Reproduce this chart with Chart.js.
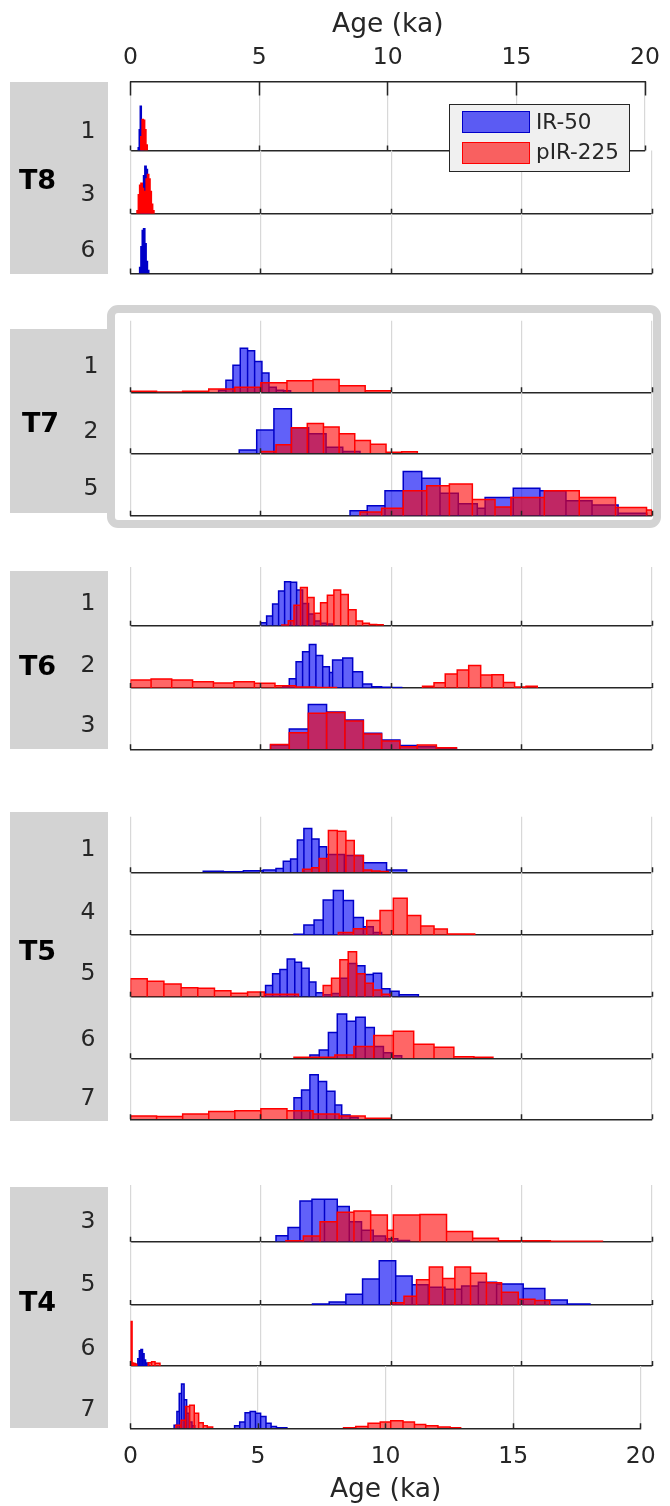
<!DOCTYPE html>
<html><head><meta charset="utf-8">
<script src="https://cdn.jsdelivr.net/npm/chart.js@4.4.1/dist/chart.umd.min.js"></script>
<style>
html,body{margin:0;padding:0;background:#fff;}
#page{position:relative;width:670px;height:1506px;overflow:hidden;font-family:"DejaVu Sans",sans-serif;color:#262626;}
.box{position:absolute;background:#d3d3d3;}
.lbl{position:absolute;height:40px;line-height:40px;text-align:center;font-size:23.5px;width:40px;color:#262626;z-index:5;}
.grp{position:absolute;height:40px;line-height:40px;text-align:center;font-size:27px;font-weight:bold;width:70px;color:#000;z-index:5;}
canvas{position:absolute;left:0;}
.leg{position:absolute;z-index:11;}
</style></head><body><div id="page"></div>
<script>
// ---------- labels ----------
const xTicks = [0, 5, 10, 15, 20];
const xTitle = 'Age (ka)';
const seriesNames = ['IR-50', 'pIR-225'];
const groupNames = ['T8', 'T7', 'T6', 'T5', 'T4'];
const rowNames = [['1','3','6'], ['1','2','5'], ['1','2','3'], ['1','4','5','6','7'], ['3','5','6','7']];

// ---------- histogram data (bin edges in ka, relative bar heights) ----------
const T8_1_IR50_edges = [0.30,0.34,0.38,0.42,0.46,0.50];
const T8_1_IR50_counts = [0.04,0.30,0.64,0.20,0.05];
const T8_1_pIR225_edges = [0.40,0.45,0.50,0.55,0.60,0.65];
const T8_1_pIR225_counts = [0.20,0.45,0.44,0.30,0.08];

const T8_3_IR50_edges = [0.40,0.45,0.50,0.55,0.60,0.65,0.70,0.75];
const T8_3_IR50_counts = [0.08,0.30,0.60,0.75,0.70,0.40,0.12];
const T8_3_pIR225_edges = [0.25,0.30,0.35,0.40,0.45,0.50,0.55,0.60,0.65,0.70,0.75,0.80,0.85,0.90];
const T8_3_pIR225_counts = [0.05,0.30,0.45,0.48,0.40,0.30,0.35,0.55,0.62,0.55,0.35,0.15,0.05];

const T8_6_IR50_edges = [0.35,0.40,0.45,0.50,0.55,0.60,0.65,0.70];
const T8_6_IR50_counts = [0.10,0.45,0.72,0.75,0.50,0.20,0.05];
const T8_6_pIR225_edges = [];
const T8_6_pIR225_counts = [];

const T7_1_IR50_edges = [3.38,3.66,3.93,4.21,4.49,4.76,5.04,5.31,5.59,5.87,6.14];
const T7_1_IR50_counts = [0.03,0.17,0.38,0.615,0.58,0.43,0.27,0.07,0.03,0.02];
const T7_1_pIR225_edges = [0,1,2,3,4,5,6,7,8,9,10];
const T7_1_pIR225_counts = [0.014,0.005,0.014,0.047,0.07,0.135,0.16,0.18,0.09,0.023];

const T7_2_IR50_edges = [4.17,4.84,5.5,6.17,6.83,7.5,8.14,8.8];
const T7_2_IR50_counts = [0.055,0.38,0.73,0.42,0.32,0.10,0.03];
const T7_2_pIR225_edges = [4.99,5.58,6.17,6.78,7.4,8.0,8.6,9.2,9.8,10.4,11.0];
const T7_2_pIR225_counts = [0.03,0.14,0.42,0.49,0.43,0.32,0.21,0.15,0.016,0.027];

const T7_5_IR50_edges = [8.42,9.08,9.76,10.46,11.17,11.87,12.57,13.3,13.6,14.68,15.7,16.7,17.7,18.7,19.8];
const T7_5_IR50_counts = [0.08,0.16,0.40,0.71,0.60,0.36,0.19,0.12,0.29,0.44,0.40,0.24,0.17,0.04];
const T7_5_pIR225_edges = [8.8,9.63,10.46,11.36,12.23,13.11,13.98,14.59,15.87,17.21,18.6,19.79,20];
const T7_5_pIR225_counts = [0.06,0.12,0.40,0.48,0.51,0.26,0.14,0.29,0.40,0.29,0.13,0.09];

const T6_1_IR50_edges = [4.99,5.22,5.45,5.68,5.91,6.14,6.37,6.6,6.83,7.06,7.29,7.52,7.75];
const T6_1_IR50_counts = [0.05,0.165,0.37,0.59,0.75,0.74,0.61,0.38,0.20,0.08,0.04,0.03];
const T6_1_pIR225_edges = [5.8,6.05,6.27,6.52,6.78,7.04,7.29,7.55,7.8,8.06,8.35,8.65,8.9,9.16,9.44,9.69];
const T6_1_pIR225_counts = [0.01,0.085,0.35,0.65,0.48,0.21,0.39,0.52,0.61,0.53,0.27,0.08,0.04,0.02,0.015];

const T6_2_IR50_edges = [5.84,6.09,6.35,6.6,6.86,7.11,7.37,7.63,7.75,8.14,8.52,8.9,9.25,9.63,10.01,10.4];
const T6_2_IR50_counts = [0.02,0.15,0.42,0.58,0.70,0.52,0.34,0.25,0.45,0.48,0.26,0.064,0.02,0.012,0.01];
const T6_2_pIR225_edges = [0,0.79,1.58,2.38,3.18,3.97,4.75,5.54,6.33,7.11,7.9,11.2,11.64,12.07,12.53,12.97,13.43,13.86,14.3,14.73,15.17,15.6];
const T6_2_pIR225_counts = [0.128,0.144,0.128,0.10,0.08,0.10,0.075,0.037,0.016,0.01,0,0.027,0.086,0.225,0.29,0.36,0.21,0.214,0.09,0.016,0.027];

const T6_3_IR50_edges = [5.37,6.09,6.82,7.52,8.22,8.93,9.63,10.33,11.0,11.73,12.5];
const T6_3_IR50_counts = [0.07,0.33,0.73,0.61,0.48,0.26,0.15,0.06,0.04,0.02];
const T6_3_pIR225_edges = [5.37,6.09,6.82,7.52,8.22,8.93,9.63,10.33,11.0,11.73,12.5];
const T6_3_pIR225_counts = [0.08,0.27,0.59,0.60,0.46,0.25,0.136,0.043,0.07,0.027];

const T5_1_IR50_edges = [2.79,3.56,4.33,5.09,5.58,5.86,6.14,6.4,6.65,6.95,7.23,7.52,8.2,8.93,9.82,10.59];
const T5_1_IR50_counts = [0.018,0.012,0.03,0.04,0.07,0.20,0.24,0.58,0.79,0.60,0.46,0.32,0.30,0.17,0.04];
const T5_1_pIR225_edges = [6.6,6.95,7.24,7.59,7.93,8.26,8.58,8.93,9.25,9.57,9.89];
const T5_1_pIR225_counts = [0.054,0.084,0.25,0.75,0.74,0.57,0.30,0.04,0.025,0.015];

const T5_4_IR50_edges = [6.27,6.65,7.04,7.39,7.78,8.16,8.55,8.93,9.31,9.63];
const T5_4_IR50_counts = [0.01,0.16,0.24,0.56,0.71,0.55,0.28,0.13,0.04];
const T5_4_pIR225_edges = [7.97,8.55,9.06,9.57,10.08,10.61,11.13,11.64,12.15,13.2];
const T5_4_pIR225_counts = [0.04,0.10,0.23,0.39,0.585,0.31,0.144,0.096,0.016];

const T5_5_IR50_edges = [5.18,5.45,5.73,6.01,6.3,6.56,6.85,7.11,7.39,7.71,8.03,8.35,8.67,8.99,9.31,9.63,9.95,10.3,11.04];
const T5_5_IR50_counts = [0.18,0.37,0.44,0.61,0.56,0.46,0.24,0.065,0.03,0.05,0.30,0.54,0.50,0.36,0.38,0.13,0.09,0.03];
const T5_5_pIR225_edges = [0,0.64,1.28,1.94,2.58,3.22,3.85,4.49,5.13,6.44,7.39,7.71,8.03,8.35,8.67,8.99,9.31,9.63,9.95];
const T5_5_pIR225_counts = [0.29,0.25,0.205,0.146,0.135,0.097,0.054,0.076,0.038,0,0.18,0.30,0.60,0.73,0.37,0.22,0.11,0.04];

const T5_6_IR50_edges = [6.88,7.24,7.59,7.93,8.29,8.64,9.0,9.35,9.7,10.05,10.4];
const T5_6_IR50_counts = [0.054,0.135,0.42,0.72,0.60,0.665,0.50,0.19,0.09,0.04];
const T5_6_pIR225_edges = [6.27,7.05,7.84,8.57,9.33,10.08,10.86,11.64,12.4,13.17,13.9];
const T5_6_pIR225_counts = [0.016,0.016,0.054,0.19,0.37,0.44,0.23,0.18,0.027,0.016];

const T5_7_IR50_edges = [6.27,6.56,6.88,7.2,7.52,7.84,8.1,8.42,8.73];
const T5_7_IR50_counts = [0.355,0.48,0.73,0.62,0.46,0.235,0.07,0.03];
const T5_7_pIR225_edges = [0,1,2,3,4,5,6,7,8,9,10];
const T5_7_pIR225_counts = [0.055,0.044,0.087,0.126,0.142,0.175,0.142,0.087,0.055,0.016];

const T4_3_IR50_edges = [5.58,6.04,6.5,6.96,7.44,7.93,8.39,8.86,9.31,9.78,10.25,10.7];
const T4_3_IR50_counts = [0.106,0.25,0.72,0.75,0.75,0.62,0.35,0.20,0.10,0.05,0.02];
const T4_3_pIR225_edges = [5.96,6.63,7.27,7.93,8.57,9.21,9.85,10.08,11.1,12.12,13.12,14.11,15.1,16.1,17.1,18.1];
const T4_3_pIR225_counts = [0.018,0.10,0.35,0.52,0.54,0.47,0.20,0.47,0.48,0.18,0.06,0.018,0.018,0.006,0.006];

const T4_5_IR50_edges = [6.98,7.62,8.26,8.9,9.54,10.17,10.8,11.42,12.06,12.7,13.34,14.04,15.06,15.89,16.75,17.62];
const T4_5_IR50_counts = [0.016,0.047,0.17,0.41,0.70,0.46,0.32,0.28,0.25,0.30,0.36,0.33,0.26,0.08,0.016];
const T4_5_pIR225_edges = [9.98,10.49,10.97,11.46,11.97,12.44,13.04,13.65,14.23,14.87,15.51,16.08];
const T4_5_pIR225_counts = [0.037,0.14,0.40,0.60,0.42,0.60,0.50,0.35,0.20,0.09,0.07];

const T4_6_IR50_edges = [0.22,0.28,0.34,0.40,0.46,0.52,0.58,0.64,0.70];
const T4_6_IR50_counts = [0.03,0.12,0.25,0.27,0.20,0.10,0.05,0.02];
const T4_6_pIR225_edges = [0,0.06,0.12,0.18,0.24,0.68,0.81,0.94,1.13];
const T4_6_pIR225_counts = [0.73,0.05,0.04,0.03,0,0.055,0.07,0.045];

const T4_7_IR50_edges = [1.71,1.82,1.91,2.0,2.1,2.2,2.3,2.41,2.52,4.08,4.28,4.49,4.69,4.9,5.1,5.31,5.51,5.72,5.93,6.13];
const T4_7_IR50_counts = [0.05,0.27,0.56,0.71,0.46,0.24,0.10,0.04,0,0.04,0.10,0.25,0.27,0.24,0.19,0.08,0.03,0.01,0.01];
const T4_7_pIR225_edges = [1.78,1.98,2.16,2.32,2.5,2.67,2.85,3.01,3.22,8.35,8.83,9.31,9.79,10.2,10.68,11.13,11.57,12.05,12.53,12.94];
const T4_7_pIR225_counts = [0.05,0.13,0.35,0.37,0.24,0.09,0.04,0.02,0,0.01,0.03,0.08,0.10,0.12,0.10,0.06,0.04,0.02,0.01];

const histTable = [
  [T8_1_IR50_edges,T8_1_IR50_counts,T8_1_pIR225_edges,T8_1_pIR225_counts],
  [T8_3_IR50_edges,T8_3_IR50_counts,T8_3_pIR225_edges,T8_3_pIR225_counts],
  [T8_6_IR50_edges,T8_6_IR50_counts,T8_6_pIR225_edges,T8_6_pIR225_counts],
  [T7_1_IR50_edges,T7_1_IR50_counts,T7_1_pIR225_edges,T7_1_pIR225_counts],
  [T7_2_IR50_edges,T7_2_IR50_counts,T7_2_pIR225_edges,T7_2_pIR225_counts],
  [T7_5_IR50_edges,T7_5_IR50_counts,T7_5_pIR225_edges,T7_5_pIR225_counts],
  [T6_1_IR50_edges,T6_1_IR50_counts,T6_1_pIR225_edges,T6_1_pIR225_counts],
  [T6_2_IR50_edges,T6_2_IR50_counts,T6_2_pIR225_edges,T6_2_pIR225_counts],
  [T6_3_IR50_edges,T6_3_IR50_counts,T6_3_pIR225_edges,T6_3_pIR225_counts],
  [T5_1_IR50_edges,T5_1_IR50_counts,T5_1_pIR225_edges,T5_1_pIR225_counts],
  [T5_4_IR50_edges,T5_4_IR50_counts,T5_4_pIR225_edges,T5_4_pIR225_counts],
  [T5_5_IR50_edges,T5_5_IR50_counts,T5_5_pIR225_edges,T5_5_pIR225_counts],
  [T5_6_IR50_edges,T5_6_IR50_counts,T5_6_pIR225_edges,T5_6_pIR225_counts],
  [T5_7_IR50_edges,T5_7_IR50_counts,T5_7_pIR225_edges,T5_7_pIR225_counts],
  [T4_3_IR50_edges,T4_3_IR50_counts,T4_3_pIR225_edges,T4_3_pIR225_counts],
  [T4_5_IR50_edges,T4_5_IR50_counts,T4_5_pIR225_edges,T4_5_pIR225_counts],
  [T4_6_IR50_edges,T4_6_IR50_counts,T4_6_pIR225_edges,T4_6_pIR225_counts],
  [T4_7_IR50_edges,T4_7_IR50_counts,T4_7_pIR225_edges,T4_7_pIR225_counts]
];

// ---------- layout (page pixels) ----------
const PAGE_W = 670, PAGE_H = 1506;
const PLOT_L = 130.5, PLOT_R = 652;
const rowBox = [[81.6,150.4],[150.4,213.8],[213.8,273.5],
  [320.8,392.3],[392.3,453.3],[453.3,515.7],
  [567,625.7],[625.7,688],[688,749.3],
  [816.7,872.3],[872.3,935],[935,996.7],[996.7,1058.3],[1058.3,1119.3],
  [1185,1241.7],[1241.7,1305],[1305,1366],[1366,1428.3]];
const rowLabelY = [129.5,193.1,249.2, 365.3,429.6,487, 601.8,663.8,723.5,
  847.7,911.2,972.4,1038.4,1097.2, 1219.6,1283.2,1346.7,1407.9];
const groupBox = [[81.6,274.4],[328.6,512.7],[571,748.7],[812.4,1120.8],[1186.7,1428.3]];
const groupLabelY = [180.3,422.7,666.1,951.3,1302];

const INK = '#262626';
const BLUE_EDGE = 'rgb(0,0,200)', BLUE_FILL = 'rgba(0,0,245,0.62)';
const RED_EDGE = 'rgb(255,0,0)', RED_FILL = 'rgba(255,0,0,0.6)';
const FONT = '"DejaVu Sans", sans-serif';
Chart.defaults.font.family = FONT;
Chart.defaults.color = INK;

const page = document.getElementById('page');
function div(cls, css, text) {
  const d = document.createElement('div');
  if (cls) d.className = cls;
  Object.assign(d.style, css);
  if (text !== undefined) d.textContent = text;
  page.appendChild(d);
  return d;
}

// T7 highlight frame
div('', {position:'absolute', left:'107px', top:'305px', width:'554px', height:'223px',
  boxSizing:'border-box', border:'8.5px solid #d3d3d3', borderRadius:'11px'});
// gray group boxes
groupBox.forEach(([t,b]) => div('box', {left:'10px', top:t+'px', width:'98px', height:(b-t)+'px'}));

function histPoints(edges, counts) {
  const pts = [];
  for (let i = 0; i < counts.length; i++) {
    const c = counts[i];
    if (!(c > 0)) { pts.push({x: edges[i], y: null}); continue; }
    pts.push({x: edges[i], y: 0}, {x: edges[i], y: c}, {x: edges[i+1], y: c}, {x: edges[i+1], y: 0});
  }
  return pts;
}

const innerTicks = {
  id: 'innerTicks',
  afterDatasetsDraw(chart, args, opts) {
    const ctx = chart.ctx, xs = chart.scales.x, a = chart.chartArea;
    ctx.save();
    ctx.strokeStyle = INK; ctx.lineWidth = 1.5;
    ctx.beginPath();
    xTicks.forEach(v => {
      const px = Math.round(xs.getPixelForValue(v) - 0.5) + 0.5;
      ctx.moveTo(px, a.bottom); ctx.lineTo(px, a.bottom - opts.bottom);
      if (opts.top) { ctx.moveTo(px, a.top); ctx.lineTo(px, a.top + opts.top); }
    });
    ctx.stroke();
    ctx.restore();
  }
};

function setTicks(s) { s.ticks = xTicks.map(v => ({value: v})); }

function makeChart(k) {
  const [top, bot] = rowBox[k];
  const isFirst = k === 0, isLast = k === rowBox.length - 1;
  const cTop = isFirst ? 0 : Math.floor(top - 2);
  const cBot = isLast ? PAGE_H : Math.ceil(bot + 2);
  const h = cBot - cTop;
  const cv = document.createElement('canvas');
  cv.width = PAGE_W; cv.height = h;
  cv.style.top = cTop + 'px'; cv.style.width = PAGE_W + 'px'; cv.style.height = h + 'px';
  page.appendChild(cv);
  const [be, bc, re, rc] = histTable[k];
  const scales = {
    x: {
      type: 'linear', position: 'bottom', min: 0, max: 20,
      afterBuildTicks: setTicks,
      grid: {display: true, color: '#d8d8d8', lineWidth: 1.2, drawTicks: false},
      border: {display: true, color: INK, width: 1.5},
      ticks: {display: isLast, padding: 14.3, font: {size: 23.5}, color: INK, autoSkip: false, maxRotation: 0},
      title: {display: isLast, text: xTitle, font: {size: 26.5}, color: INK, padding: {top: 0, bottom: 0}},
      afterFit: s => { s.height = isLast ? (PAGE_H - bot) : 0; }
    },
    y: {display: false, min: 0, max: 1}
  };
  if (isFirst) {
    scales.xTop = {
      type: 'linear', position: 'top', min: 0, max: 20,
      afterBuildTicks: setTicks,
      grid: {display: false, drawTicks: false},
      border: {display: true, color: INK, width: 1.5},
      ticks: {display: true, padding: 10, font: {size: 23.5}, color: INK, autoSkip: false, maxRotation: 0},
      title: {display: true, text: xTitle, font: {size: 26.5}, color: INK, padding: {top: 9.1, bottom: 0}},
      afterFit: s => { s.height = top; }
    };
  }
  new Chart(cv, {
    type: 'line',
    data: {
      datasets: [
        {label: seriesNames[1], data: histPoints(re, rc), borderColor: RED_EDGE, backgroundColor: RED_FILL,
         borderWidth: 1.5, fill: 'origin', pointRadius: 0, pointHoverRadius: 0, tension: 0, spanGaps: false,
         borderJoinStyle: 'miter', xAxisID: 'x', yAxisID: 'y'},
        {label: seriesNames[0], data: histPoints(be, bc), borderColor: BLUE_EDGE, backgroundColor: BLUE_FILL,
         borderWidth: 1.5, fill: 'origin', pointRadius: 0, pointHoverRadius: 0, tension: 0, spanGaps: false,
         borderJoinStyle: 'miter', xAxisID: 'x', yAxisID: 'y'}
      ]
    },
    options: {
      responsive: false, animation: false, devicePixelRatio: 1, events: [],
      layout: {padding: {left: PLOT_L, right: PAGE_W - PLOT_R,
        top: isFirst ? 0 : top - cTop, bottom: isLast ? 0 : cBot - bot}},
      scales,
      plugins: {legend: {display: false}, tooltip: {enabled: false},
        innerTicks: {bottom: 5, top: isFirst ? 14 : 0}}
    },
    plugins: [innerTicks]
  });
}

let k = 0;
groupNames.forEach((g, gi) => {
  const gx = gi === 1 ? 40.5 : 37.5;
  div('grp', {left: (gx - 35) + 'px', top: (groupLabelY[gi] - 20) + 'px'}, g);
  rowNames[gi].forEach(rn => {
    const lx = gi === 1 ? 91 : 88;
    div('lbl', {left: (lx - 20) + 'px', top: (rowLabelY[k] - 20) + 'px'}, rn);
    makeChart(k);
    k++;
  });
});

// legend (inside top plot, upper right)
div('leg', {left: '449px', top: '103.5px', width: '181px', height: '68px', boxSizing: 'border-box',
  border: '1.3px solid ' + INK, background: '#f0f0f0', zIndex: 10});
div('leg', {left: '462px', top: '111px', width: '68px', height: '22px', boxSizing: 'border-box',
  border: '1.5px solid ' + BLUE_EDGE, background: BLUE_FILL});
div('leg', {left: '462px', top: '141.7px', width: '68px', height: '22px', boxSizing: 'border-box',
  border: '1.5px solid ' + RED_EDGE, background: RED_FILL});
div('leg', {left: '536px', top: '102px', height: '40px', lineHeight: '40px', fontSize: '21.5px', color: INK, whiteSpace: 'nowrap'}, seriesNames[0]);
div('leg', {left: '536px', top: '132px', height: '40px', lineHeight: '40px', fontSize: '21.5px', color: INK, whiteSpace: 'nowrap'}, seriesNames[1]);
</script></body></html>
